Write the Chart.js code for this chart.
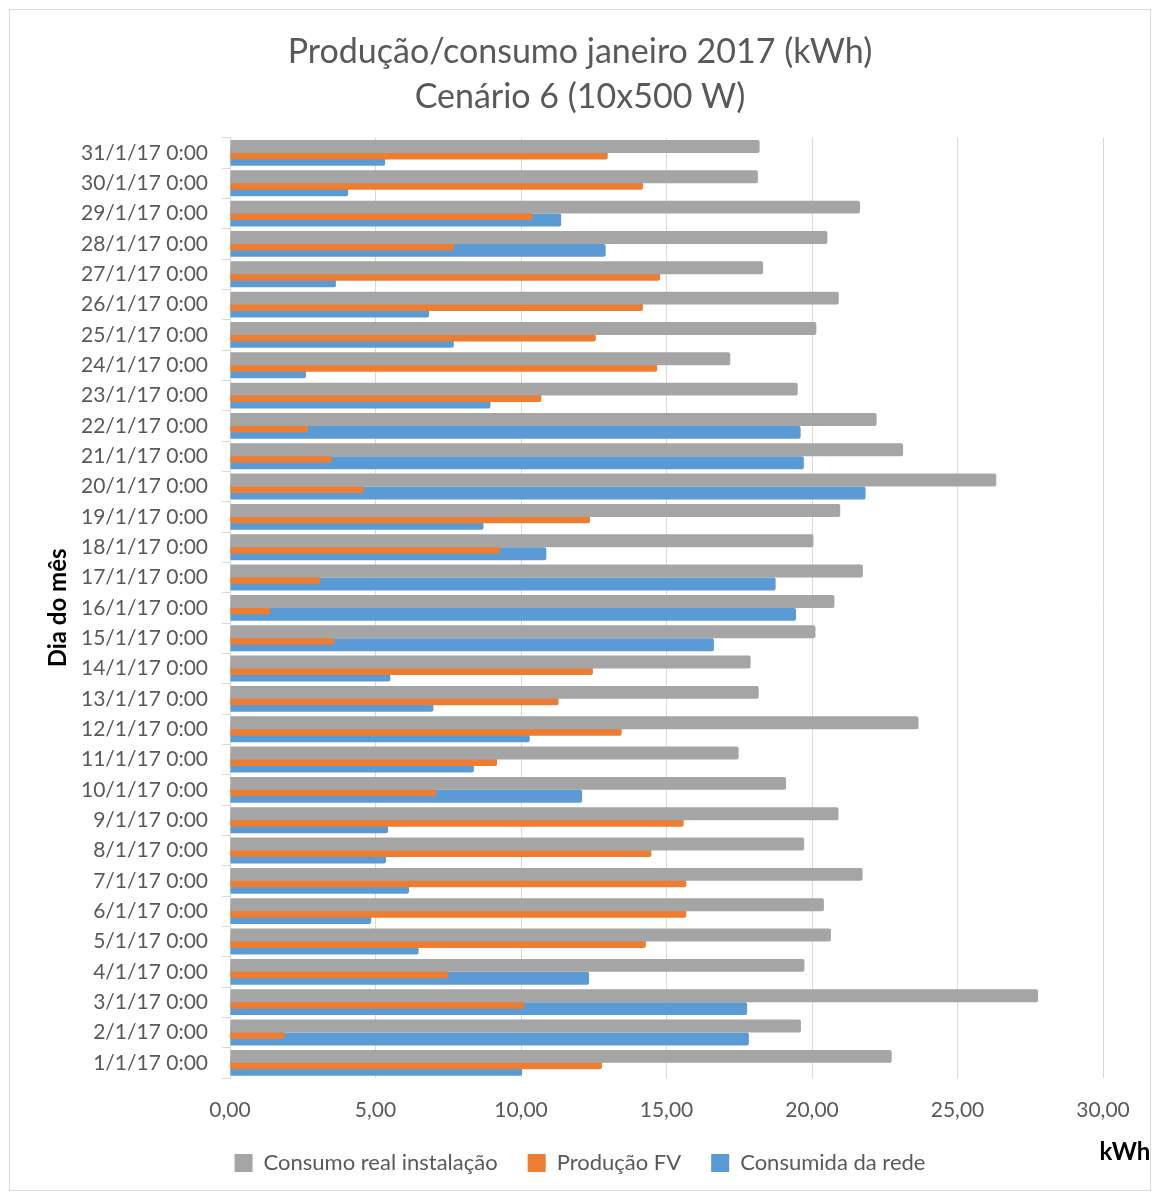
<!DOCTYPE html>
<html>
<head>
<meta charset="utf-8">
<script src="https://cdn.jsdelivr.net/npm/chart.js@4"></script>
<style>
  body { margin: 0; background: #fff; }
  #wrap {
    position: absolute;
    left: 9px;
    top: 9px;
    width: 1140px;
    height: 1180px;
    border: 1px solid #d9d9d9;
  }
</style>
</head>
<body>
<div id="wrap"><canvas id="chartCenario"></canvas></div>
<script>
const dias = [
  "1/1/17 0:00", "2/1/17 0:00", "3/1/17 0:00", "4/1/17 0:00", "5/1/17 0:00",
  "6/1/17 0:00", "7/1/17 0:00", "8/1/17 0:00", "9/1/17 0:00", "10/1/17 0:00",
  "11/1/17 0:00", "12/1/17 0:00", "13/1/17 0:00", "14/1/17 0:00", "15/1/17 0:00",
  "16/1/17 0:00", "17/1/17 0:00", "18/1/17 0:00", "19/1/17 0:00", "20/1/17 0:00",
  "21/1/17 0:00", "22/1/17 0:00", "23/1/17 0:00", "24/1/17 0:00", "25/1/17 0:00",
  "26/1/17 0:00", "27/1/17 0:00", "28/1/17 0:00", "29/1/17 0:00", "30/1/17 0:00",
  "31/1/17 0:00",
];

const consumoReal = [
  22.74, 19.62, 27.77, 19.74, 20.65, 20.41, 21.74, 19.73, 20.91, 19.11,
  17.48, 23.66, 18.17, 17.89, 20.12, 20.77, 21.75, 20.05, 20.97, 26.33,
  23.13, 22.22, 19.51, 17.19, 20.15, 20.92, 18.32, 20.53, 21.65, 18.14,
  18.2,
];

const producaoFV = [
  12.78, 1.87, 10.1, 7.49, 14.29, 15.68, 15.68, 14.48, 15.59, 7.08,
  9.18, 13.46, 11.29, 12.47, 3.59, 1.38, 3.09, 9.28, 12.37, 4.59,
  3.49, 2.68, 10.7, 14.68, 12.57, 14.19, 14.78, 7.7, 10.39, 14.19,
  12.98,
];

const consumidaRede = [
  10.04, 17.83, 17.77, 12.34, 6.48, 4.85, 6.15, 5.36, 5.43, 12.1,
  8.38, 10.3, 6.99, 5.51, 16.63, 19.45, 18.75, 10.87, 8.71, 21.84,
  19.72, 19.61, 8.95, 2.61, 7.69, 6.84, 3.64, 12.91, 11.38, 4.06,
  5.33,
];

const tituloLinhas = ["Produção/consumo janeiro 2017 (kWh)", "Cenário 6 (10x500 W)"];

const fonte = "Lato, 'Open Sans', sans-serif";
const corTexto = "#595959";

// unit label drawn at the right end of the value axis
const unidadePlugin = {
  id: "unidade",
  afterDraw(chart) {
    const { ctx, chartArea } = chart;
    ctx.save();
    ctx.font = "bold 24px " + fonte;
    ctx.fillStyle = "#000";
    ctx.textAlign = "center";
    ctx.textBaseline = "middle";
    ctx.fillText("kWh", chartArea.right + 22, chartArea.bottom + 74);
    ctx.restore();
  },
};

const chartCenarioElement = document.querySelector("#chartCenario");

new Chart(chartCenarioElement, {
  type: "bar",
  data: {
    labels: dias,
    datasets: [
      {
        label: "Consumo real instalação",
        data: consumoReal,
        backgroundColor: "#a5a5a5",
      },
      {
        label: "Produção FV",
        data: producaoFV,
        backgroundColor: "#ed7d31",
      },
      {
        label: "Consumida da rede",
        data: consumidaRede,
        backgroundColor: "#5b9bd5",
      },
    ],
  },
  options: {
    indexAxis: "y",
    responsive: true,
    maintainAspectRatio: false,
    animation: false,
    // bars twice as wide as their slot, so neighbours overlap by half
    categoryPercentage: 0.64,
    barPercentage: 2,
    borderRadius: 2,
    layout: {
      padding: { left: 47, right: 47, top: 0, bottom: 6 },
    },
    plugins: {
      title: {
        display: true,
        text: tituloLinhas,
        color: corTexto,
        font: { family: fonte, size: 34, weight: "normal", lineHeight: 1.32 },
        padding: { top: 20, bottom: 18 },
      },
      legend: {
        position: "bottom",
        labels: {
          color: corTexto,
          font: { family: fonte, size: 22 },
          boxWidth: 18,
          boxHeight: 18,
          padding: 30,
        },
      },
      tooltip: { enabled: false },
    },
    scales: {
      x: {
        min: 0,
        max: 30,
        afterFit: (scale) => {
          scale.height = 44;
        },
        ticks: {
          stepSize: 5,
          color: corTexto,
          font: { family: fonte, size: 21 },
          padding: 20,
          callback: (v) => v.toFixed(2).replace(".", ","),
        },
        grid: { color: "#d9d9d9", drawTicks: false },
        border: { display: false },
      },
      y: {
        reverse: true,
        afterFit: (scale) => {
          scale.width = 173;
        },
        ticks: {
          color: corTexto,
          font: { family: fonte, size: 21 },
          padding: 14,
          autoSkip: false,
        },
        grid: {
          drawOnChartArea: false,
          tickLength: 8,
          color: "#d9d9d9",
        },
        border: { color: "#d9d9d9" },
        title: {
          display: true,
          text: "Dia do mês",
          color: "#000",
          font: { family: fonte, size: 24, weight: "bold" },
          padding: { top: -13 },
        },
      },
    },
  },
  plugins: [unidadePlugin],
});
</script>
</body>
</html>
